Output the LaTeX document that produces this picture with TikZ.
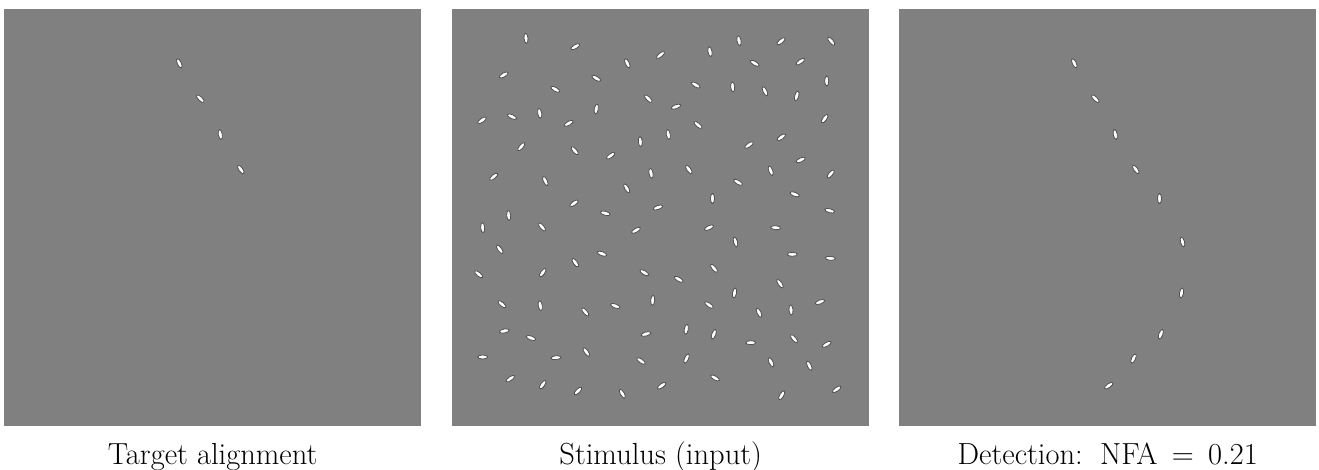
\documentclass[tikz,border=0pt]{standalone}
\usepackage{tikz}
\usetikzlibrary{shapes.geometric,positioning,calc}
\definecolor{bggray}{RGB}{128,128,128}
\definecolor{gaborshade}{RGB}{80,80,80}

% patches of the good continuation (panel coordinates, angle)
\def\contourlist{175.3/54.3/115, 196.3/89.7/135, 216.3/125.5/100, 236.8/160.5/125,
  260.5/189.5/90, 283.5/233/105, 282.5/284/80, 261.8/325.2/70, 234.5/349.6/65, 209.7/376.7/35}

\begin{document}
\begin{tikzpicture}[x=1pt, y=-1pt,
  panel/.style={
    fill=bggray,
    draw=none,
    inner sep=0pt,
    minimum width=417pt,
    minimum height=417pt,
    anchor=north west
  },
  gabor/.style={
    ellipse,
    fill=white,
    draw=gaborshade,
    line width=0.8pt,
    inner sep=0pt,
    minimum width=10pt,
    minimum height=4pt,
    rotate=#1
  },
  caption/.style={
    font=\fontsize{30.5}{36}\selectfont,
    anchor=base
  }
]
\useasboundingbox (0,0) rectangle (1319,470);

% Left: target alignment
\node[panel] (target) at (4,9) {};
\begin{scope}[shift={(target.north west)}]
  \foreach \px/\py/\ang [count=\k] in \contourlist {
    \ifnum\k<5
      \node[gabor=\ang] (t\k) at (\px,\py) {};
    \fi
  }
\end{scope}
\node[caption] (targetcap) at ($(target.south)+(0,38)$) {Target alignment};

% Middle: stimulus
\node[panel] (stim) at (452,9) {};
\begin{scope}[shift={(stim.north west)}]
  \foreach \px/\py/\ang [count=\k] in \contourlist
    \node[gabor=\ang] (c\k) at (\px,\py) {};
  \foreach \px/\py/\ang [count=\k] in {
    74/29.3/95, 123.3/37.7/30, 208.5/46/40, 51.7/66/30, 144.3/69.3/150,
    103.3/80.3/150, 30/111.3/35, 60/107.7/155, 87.7/104.3/100, 144.3/100/80,
    116.7/114.3/30, 188.3/132.7/95, 69.3/137.7/50, 122.7/141.7/130, 158.7/146.7/35,
    199/164.3/100, 41.7/167.7/40, 93.3/172/115, 174.7/179.3/120, 122/194.3/35,
    153.3/204.3/165, 206/198.5/20, 56.7/206.5/95,
    287/31.7/100, 329/32.3/40, 379.3/32.3/130, 258/42.7/100, 302.7/54.3/150,
    348.3/52.7/35, 243.7/76/150, 280.7/78/95, 313/82.3/115, 344.7/87/75,
    374.7/72/90, 224/97.7/20, 246/116/140, 372.7/109.7/55, 329.3/128.3/35,
    297/136/35, 348.7/151/25, 318.7/161.7/110, 378.7/165/50, 286/173.3/150,
    342.7/185.3/160, 377.7/201.7/165,
    30.7/218.7/95, 90/218/130, 184/221.3/30, 47.7/240.3/125, 150/244.7/160,
    123.3/253.7/125, 26.7/265.3/140, 90.7/263.7/55, 192.3/263.7/150, 50/295.3/140,
    88.3/296.7/100, 133.3/303/130, 163.3/297/160, 200.7/291.3/85, 52.3/322/10,
    79/329/160, 194/325/15, 30.7/348/0, 104/348.7/5, 134.3/343/125,
    189/352/145, 58.3/369.7/35, 90.7/375.7/55, 126/382/45, 170.3/384.7/120,
    257/218.7/25, 323.7/218.7/175, 340.3/245.3/0, 378.3/249.3/175, 262/259.3/130,
    226.7/270.3/150, 328/274.7/125, 257/296/145, 307/303.7/115, 339/301/95,
    368/293/20, 234.3/320.3/80, 298.7/333.7/0, 342/329.7/130, 374.7/335.3/30,
    319/353.3/115, 357.3/356.7/115, 263/369/150, 329.7/386.3/60, 384.7/380.3/35}
    \node[gabor=\ang] (s\k) at (\px,\py) {};
\end{scope}
\node[caption] (stimcap) at ($(stim.south)+(0,38)$) {Stimulus (input)};

% Right: detection
\node[panel] (detect) at (899,9) {};
\begin{scope}[shift={(detect.north west)}]
  \foreach \px/\py/\ang [count=\k] in \contourlist
    \node[gabor=\ang] (d\k) at (\px,\py) {};
\end{scope}
\node[caption] (detectcap) at ($(detect.south)+(0,38)$) {Detection:\, NFA\, =\, 0.21};

\end{tikzpicture}
\end{document}
